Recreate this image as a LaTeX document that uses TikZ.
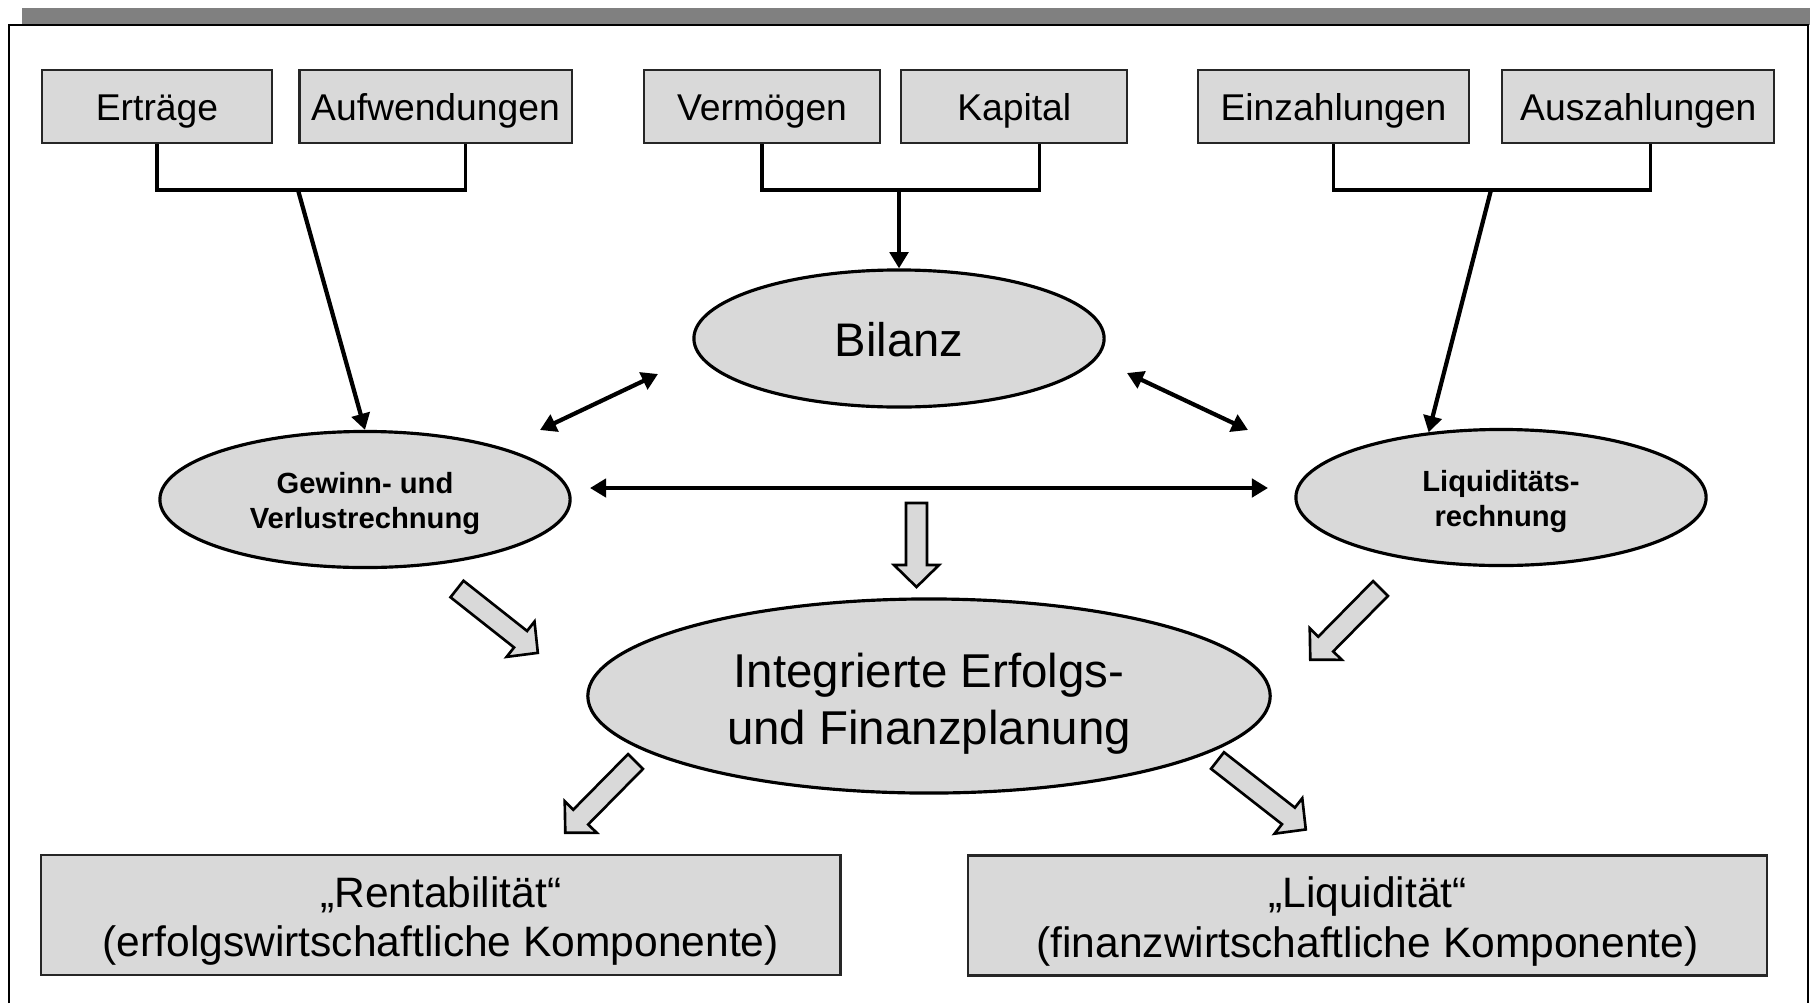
\documentclass[tikz,border=0pt]{standalone}
\usepackage{fontspec}
\setmainfont{Liberation Sans}
\usepackage{tikz}
\usetikzlibrary{arrows.meta, positioning, shapes.geometric}

\definecolor{boxgray}{HTML}{D9D9D9}
\definecolor{bargray}{HTML}{808080}

\tikzset{
  pics/hollow/.style={code={
    \draw[line width=0.75pt, fill=boxgray, line join=miter]
      (0,-10.5) -- (#1-22,-10.5) -- (#1-22,-22.5) -- (#1,0)
      -- (#1-22,22.5) -- (#1-22,10.5) -- (0,10.5) -- cycle;
  }}
}

\begin{document}
\begin{tikzpicture}[x=0.01cm, y=-0.01cm, >={Triangle[length=4.6pt,width=5.2pt]}]

        % Define block styles
        \tikzstyle{item} = [rectangle, draw=black!85, line width=0.6pt, fill=boxgray, minimum height=0.73cm, inner sep=0pt, text height=9.6pt, text depth=1.4pt, font=\fontsize{10.6}{12}\selectfont]
        \tikzstyle{account} = [ellipse, draw, line width=0.9pt, fill=boxgray, inner sep=0pt, minimum width=4.1cm, minimum height=1.36cm, align=center, text height=17.1pt, text depth=0.8pt, font=\bfseries\fontsize{8.3}{10}\selectfont]
        \tikzstyle{plan} = [ellipse, draw, line width=0.9pt, fill=boxgray, inner sep=0pt, minimum width=6.82cm, minimum height=1.94cm, align=center, text height=30pt, text depth=2.2pt, font=\fontsize{13.5}{16.4}\selectfont]
        \tikzstyle{result} = [rectangle, draw=black!85, line width=0.6pt, fill=boxgray, minimum width=7.99cm, minimum height=1.2cm, inner sep=0pt, align=center, text height=26pt, text depth=2.4pt, font=\fontsize{12.1}{14}\selectfont]
        \tikzstyle{link} = [line width=0.95pt]
        \tikzstyle{arrow} = [line width=1.2pt, ->]
        \tikzstyle{both} = [line width=1.2pt, <->]

        % Frame
        \useasboundingbox (0,0) rectangle (1810,1003);
        \fill[bargray] (22,8) rectangle (1810,25);
        \draw[line width=0.75pt] (9,1003) -- (9,25) -- (1808,25) -- (1808,1003);

        % Components
        \node (ertraege) [item, minimum width=2.305cm] at (157,106.5) {Erträge};
        \node (aufwand) [item, minimum width=2.72cm, right=0.25cm of ertraege] {Aufwendungen};
        \node (vermoegen) [item, minimum width=2.36cm] at (762,106.5) {Vermögen};
        \node (kapital) [item, minimum width=2.26cm, right=0.19cm of vermoegen] {Kapital};
        \node (einzahl) [item, minimum width=2.71cm] at (1333.5,106.5) {Einzahlungen};
        \node (auszahl) [item, minimum width=2.72cm, right=0.31cm of einzahl] {Auszahlungen};

        \node (bilanz) [account, minimum width=4.1cm, minimum height=1.37cm, text height=12pt, text depth=1.5pt, font=\fontsize{13.4}{16}\selectfont] at (899,338.5) {Bilanz};
        \node (guv) [account] at (365,499.5) {Gewinn- und\\Verlustrechnung};
        \node (liq) [account] at (1501,497.5) {Liquiditäts-\\rechnung};
        \node (ifp) [plan] at (929,696) {Integrierte Erfolgs-\\und Finanzplanung};

        \node (rent) [result] at (440.75,915) {„Rentabilität“\\(erfolgswirtschaftliche Komponente)};
        \node (liqbox) [result] at (1367.5,915.5) {„Liquidität“\\(finanzwirtschaftliche Komponente)};

        % Junctions
        \coordinate (j1) at (298,190);
        \coordinate (j2) at (899,190);
        \coordinate (j3) at (1491,190);
        \coordinate (gb1) at (540,430);
        \coordinate (gb2) at (658,374);
        \coordinate (bl1) at (1127,373);
        \coordinate (bl2) at (1248,430);
        \coordinate (gl1) at (590,488);
        \coordinate (gl2) at (1268,488);

        % Brackets
        \draw [link] (ertraege.south) |- (j1) -| ([xshift=0.3cm]aufwand.south);
        \draw [link] (vermoegen.south) |- (j2) -| ([xshift=0.25cm]kapital.south);
        \draw [link] (einzahl.south) |- (j3) -| ([xshift=0.12cm]auszahl.south);

        % Arrows
        \draw [arrow] (j1) -- (guv.north);
        \draw [arrow] (j2) -- (bilanz.north);
        \draw [arrow] (j3) -- (liq.138);
        \draw [both] (gb1) -- (gb2);
        \draw [both] (bl1) -- (bl2);
        \draw [both] (gl1) -- (gl2);

        % Hollow arrows
        \pic [rotate=-90] at (916.5,503) {hollow=84};
        \pic [rotate=-38.3] at (457,589) {hollow=103};
        \pic [rotate=225.4] at (1380.5,588.5) {hollow=100};
        \pic [rotate=225.4] at (635.5,761.5) {hollow=100};
        \pic [rotate=-38] at (1217.5,760.5) {hollow=112};

      \end{tikzpicture}
\end{document}
